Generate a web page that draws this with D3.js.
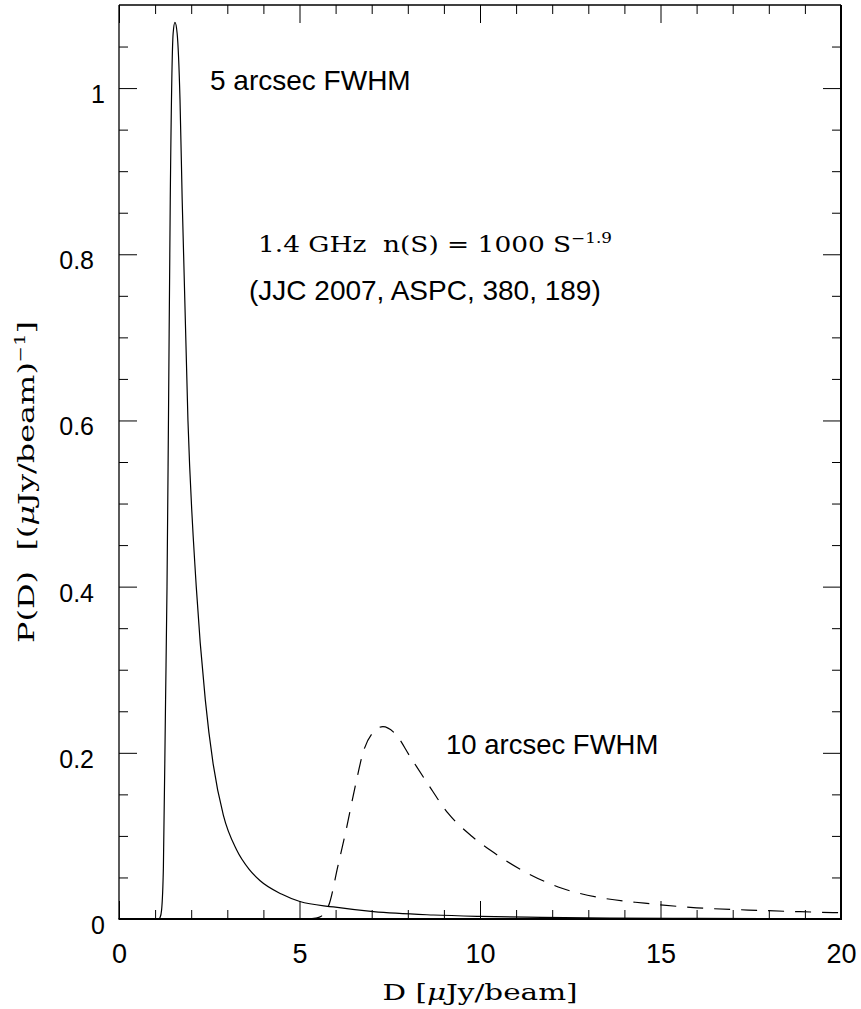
<!DOCTYPE html>
<html><head><meta charset="utf-8">
<script src="https://cdn.jsdelivr.net/npm/d3@7"></script>
<style>body{margin:0;background:#fff}</style>
</head><body><svg id="c" width="861" height="1009"></svg>
<script>
// 5 arcsec FWHM curve (solid)
const solidD = [0, 1.10, 1.14, 1.18, 1.23, 1.29, 1.33, 1.37, 1.42, 1.50, 1.55, 1.61, 1.69, 1.75, 1.91, 2.14, 2.39, 2.61, 2.89, 3.26, 3.60, 3.91, 4.50, 5.01, 5.94, 7.05, 8.71, 10, 11.7, 13.6, 16, 20];
const solidP = [0, 0, 0.002, 0.011, 0.063, 0.264, 0.40, 0.60, 0.866, 1.066, 1.079, 1.066, 0.986, 0.866, 0.60, 0.40, 0.264, 0.186, 0.125, 0.083, 0.060, 0.046, 0.030, 0.021, 0.0145, 0.0088, 0.0048, 0.0032, 0.002, 0.0012, 0.0008, 0.0005];
// 10 arcsec FWHM curve (dashed)
const dashD = [5.2, 5.45, 5.59, 5.83, 6.06, 6.30, 6.54, 6.78, 7.02, 7.31, 7.64, 8.07, 8.55, 9.12, 9.79, 10.55, 11.32, 12.27, 13.42, 14.56, 16.0, 17.43, 18.86, 20];
const dashP = [0, 0.001, 0.003, 0.019, 0.063, 0.109, 0.159, 0.203, 0.2235, 0.2315, 0.2235, 0.195, 0.163, 0.127, 0.099, 0.075, 0.055, 0.037, 0.025, 0.019, 0.0135, 0.0108, 0.0088, 0.0075];

const xTicks = [0, 5, 10, 15, 20];
const xTickLabels = ["0", "5", "10", "15", "20"];
const yTicks = [0, 0.2, 0.4, 0.6, 0.8, 1];
const yTickLabels = ["0", "0.2", "0.4", "0.6", "0.8", "1"];
const xMinor = d3.range(1, 20, 1).filter(v => v % 5 !== 0);
const yMinor = d3.range(0.05, 1.1, 0.05).map(v => +v.toFixed(2)).filter(v => Math.abs(v / 0.2 - Math.round(v / 0.2)) > 1e-6);

const W = 861, H = 1009;
const m = {left: 119, right: 20, top: 5, bottom: 90};
const svg = d3.select("#c");
const x = d3.scaleLinear().domain([0, 20]).range([m.left, W - m.right]);
const y = d3.scaleLinear().domain([0, 1.1]).range([H - m.bottom, m.top]);
const sans = "'Liberation Sans', Arial, Helvetica, sans-serif";
const serif = "'DejaVu Serif', serif";

// curves
const line = d3.line().x(d => x(d[0])).y(d => y(d[1])).curve(d3.curveMonotoneX);
svg.append("path").datum(solidD.map((d, i) => [d, solidP[i]]))
  .attr("d", line).attr("fill", "none").attr("stroke", "#000").attr("stroke-width", 1.2);
svg.append("path").datum(dashD.map((d, i) => [d, dashP[i]]))
  .attr("d", line).attr("fill", "none").attr("stroke", "#000").attr("stroke-width", 1.2)
  .attr("stroke-dasharray", "16,11");

// axes ticks (inside), all four sides
function addAxis(axis, tx, ty) {
  const g = svg.append("g").attr("transform", `translate(${tx},${ty})`).call(axis);
  g.select(".domain").remove();
  g.selectAll(".tick line").attr("stroke", "#000").attr("stroke-width", 1);
  return g;
}
const yb = y(0), yt = y(1.1), xl = x(0), xr = x(20);
addAxis(d3.axisBottom(x).tickValues(xMinor).tickSize(-9).tickFormat(""), 0, yb);
addAxis(d3.axisTop(x).tickValues(xMinor).tickSize(-9).tickFormat(""), 0, yt);
addAxis(d3.axisTop(x).tickValues(xTicks).tickSize(-18).tickFormat(""), 0, yt);
const gxb = addAxis(d3.axisBottom(x).tickValues(xTicks).tickSize(-18)
  .tickFormat((d, i) => xTickLabels[i]), 0, yb);
gxb.selectAll(".tick text").attr("y", 44).attr("dy", null)
  .attr("font-family", sans).attr("font-size", 27).attr("fill", "#000");

addAxis(d3.axisLeft(y).tickValues(yMinor).tickSize(-9).tickFormat(""), xl, 0);
addAxis(d3.axisRight(y).tickValues(yMinor).tickSize(-9).tickFormat(""), xr, 0);
addAxis(d3.axisRight(y).tickValues(yTicks).tickSize(-18).tickFormat(""), xr, 0);
const gyl = addAxis(d3.axisLeft(y).tickValues(yTicks).tickSize(-18)
  .tickFormat((d, i) => yTickLabels[i]), xl, 0);
gyl.selectAll(".tick text")
  .attr("x", function() { return this.textContent.includes(".") ? -25 : -14; })
  .attr("dy", null).attr("y", 14.5)
  .attr("text-anchor", "end")
  .attr("font-family", sans).attr("font-size", 25).attr("fill", "#000");

// frame
svg.append("line").attr("x1", xl).attr("x2", xl).attr("y1", yt).attr("y2", yb).attr("stroke", "#000").attr("stroke-width", 1.3);
svg.append("line").attr("x1", xl).attr("x2", xr).attr("y1", yt).attr("y2", yt).attr("stroke", "#000").attr("stroke-width", 1.3);
svg.append("line").attr("x1", xr).attr("x2", xr).attr("y1", yt).attr("y2", yb + 1).attr("stroke", "#000").attr("stroke-width", 2);
svg.append("line").attr("x1", xl - 0.5).attr("x2", xr + 1).attr("y1", yb).attr("y2", yb).attr("stroke", "#000").attr("stroke-width", 2.2);

// annotations
svg.append("text").attr("x", 210).attr("y", 90).attr("font-family", sans).attr("font-size", 28)
  .text("5 arcsec FWHM");
svg.append("text").attr("x", 446).attr("y", 754).attr("font-family", sans).attr("font-size", 27.5)
  .text("10 arcsec FWHM");
svg.append("text").attr("x", 249).attr("y", 300).attr("font-family", sans).attr("font-size", 28)
  .text("(JJC 2007, ASPC, 380, 189)");

const t1 = svg.append("g").attr("transform", "translate(258,252) scale(1.2,1)")
  .append("text").attr("font-family", serif).attr("font-size", 22).style("white-space", "pre");
t1.append("tspan").text("1.4 GHz  n(S) = 1000 S");
t1.append("tspan").attr("font-size", 14).attr("dy", -9).text("\u22121.9");

// axis titles
const xt = svg.append("g").attr("transform", `translate(${(xl + xr) / 2},1000) scale(1.28,1)`)
  .append("text").attr("text-anchor", "middle").attr("font-family", serif).attr("font-size", 23)
  .style("white-space", "pre");
xt.append("tspan").text("D [");
xt.append("tspan").attr("font-style", "italic").text("\u03bc");
xt.append("tspan").text("Jy/beam]");

const ytl = svg.append("g").attr("transform", `translate(34,482) rotate(-90) scale(1.39,1)`)
  .append("text").attr("text-anchor", "middle").attr("font-family", serif).attr("font-size", 23)
  .style("white-space", "pre");
ytl.append("tspan").text("P(D)  [(");
ytl.append("tspan").attr("font-style", "italic").text("\u03bc");
ytl.append("tspan").text("Jy/beam)");
ytl.append("tspan").attr("font-size", 14).attr("dy", -9).text("\u22121");
ytl.append("tspan").attr("dy", 9).text("]");
</script></body></html>
